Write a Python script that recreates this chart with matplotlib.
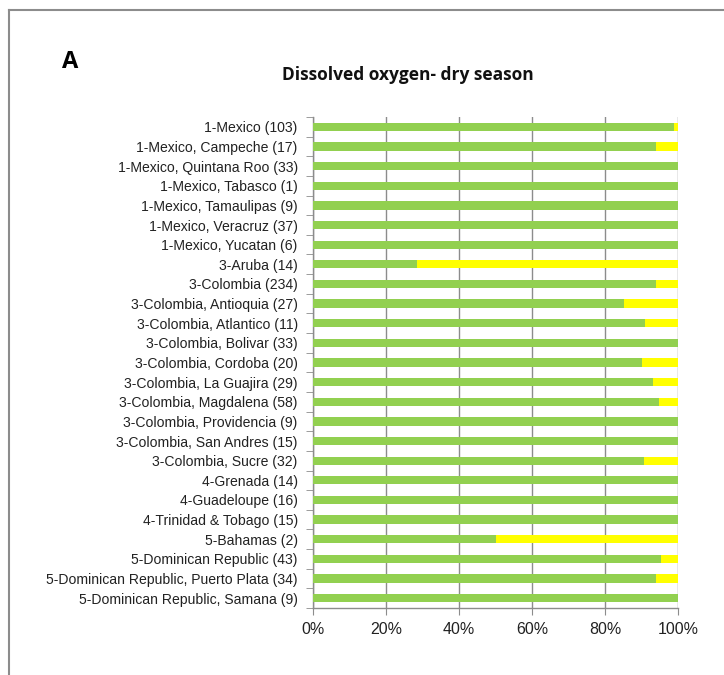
import matplotlib
matplotlib.use("Agg")
import matplotlib.pyplot as plt

categories = [
    "1-Mexico (103)", "1-Mexico, Campeche (17)", "1-Mexico, Quintana Roo (33)",
    "1-Mexico, Tabasco (1)", "1-Mexico, Tamaulipas (9)", "1-Mexico, Veracruz (37)",
    "1-Mexico, Yucatan (6)", "3-Aruba (14)", "3-Colombia (234)",
    "3-Colombia, Antioquia (27)", "3-Colombia, Atlantico (11)", "3-Colombia, Bolivar (33)",
    "3-Colombia, Cordoba (20)", "3-Colombia, La Guajira (29)", "3-Colombia, Magdalena (58)",
    "3-Colombia, Providencia (9)", "3-Colombia, San Andres (15)", "3-Colombia, Sucre (32)",
    "4-Grenada (14)", "4-Guadeloupe (16)", "4-Trinidad & Tobago (15)",
    "5-Bahamas (2)", "5-Dominican Republic (43)", "5-Dominican Republic, Puerto Plata (34)",
    "5-Dominican Republic, Samana (9)",
]
green_share = [
    0.990, 0.941, 1.0, 1.0, 1.0, 1.0, 1.0, 0.286, 0.940,
    0.852, 0.909, 1.0, 0.900, 0.931, 0.948,
    1.0, 1.0, 0.906, 1.0, 1.0, 1.0,
    0.500, 0.953, 0.941, 1.0,
]
yellow_share = [1.0 - g for g in green_share]
x_ticks = [0, 0.2, 0.4, 0.6, 0.8, 1.0]
x_tick_labels = ["0%", "20%", "40%", "60%", "80%", "100%"]

W, H = 724, 675
fig = plt.figure(figsize=(W / 100, H / 100), dpi=100)
fig.patch.set_facecolor("white")

# outer frame
fig.add_artist(plt.Line2D([8.5 / W, 8.5 / W], [0, 1 - 10 / H], color="#8c8c8c", lw=1.5,
                          transform=fig.transFigure))
fig.add_artist(plt.Line2D([8.5 / W, 1], [1 - 10 / H, 1 - 10 / H], color="#8c8c8c", lw=1.5,
                          transform=fig.transFigure))

left, right = 313 / W, 678 / W
top, bottom = 1 - 117 / H, 1 - 608 / H
ax = fig.add_axes([left, bottom, right - left, top - bottom])

n = len(categories)
ypos = list(range(n))
ax.barh(ypos, green_share, height=0.42, color="#92d050", zorder=3)
ax.barh(ypos, yellow_share, left=green_share, height=0.42, color="#ffff00", zorder=3)

ax.set_xlim(0, 1)
ax.set_ylim(n - 0.5, -0.5)
ax.set_xticks(x_ticks)
ax.set_xticklabels(x_tick_labels, fontsize=11.5, family="Liberation Sans", color="#222222")
ax.set_yticks(ypos)
ax.set_yticklabels(categories, fontsize=10.1, family="Liberation Sans", color="#222222")
ax.tick_params(axis="y", length=0, pad=11)
ax.tick_params(axis="x", length=5, color="#8c8c8c", pad=5)

# category separator ticks on the value axis
ax.set_yticks([i - 0.5 for i in range(n + 1)], minor=True)
ax.tick_params(axis="y", which="minor", length=5, color="#8c8c8c")

ax.grid(axis="x", color="#8c8c8c", lw=1, zorder=0)
for s in ["top", "right"]:
    ax.spines[s].set_visible(False)
for s in ["left", "bottom"]:
    ax.spines[s].set_color("#8c8c8c")
    ax.spines[s].set_linewidth(1)

fig.text(408 / W, 1 - 75 / H, "Dissolved oxygen- dry season", ha="center", va="center",
         fontsize=12.5, fontweight="bold", family="Open Sans", color="#111111")
fig.text(62 / W, 1 - 62 / H, "A", ha="left", va="center",
         fontsize=17, fontweight="bold", family="Open Sans", color="#000000")

fig.savefig("out.png", dpi=100, facecolor="white")
